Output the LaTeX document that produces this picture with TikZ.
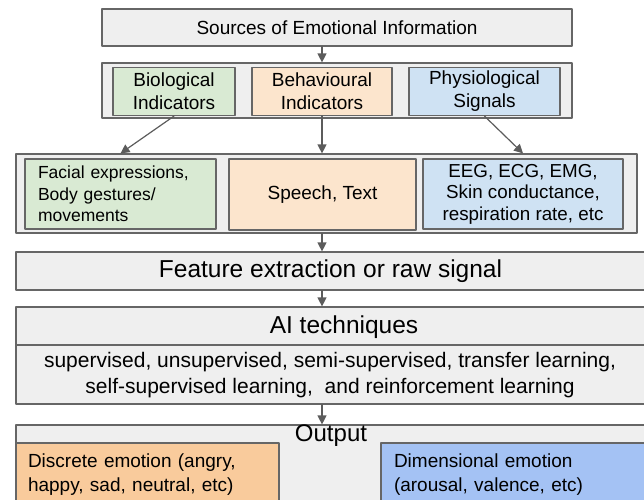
\documentclass[tikz,border=0pt]{standalone}
\usepackage{fontspec}
\setmainfont{Liberation Sans}
\usepackage{tikz}
\usetikzlibrary{arrows.meta}

\definecolor{boxgray}{HTML}{EFEFEF}
\definecolor{edgegray}{HTML}{666666}
\definecolor{biogreen}{HTML}{D9EAD3}
\definecolor{behorange}{HTML}{FCE5CD}
\definecolor{phyblue}{HTML}{CFE2F3}
\definecolor{discorange}{HTML}{F9CB9C}
\definecolor{dimblue}{HTML}{A4C2F4}

\begin{document}
\begin{tikzpicture}[line cap=round,line join=round,>={Triangle[width=9pt,length=9pt]},x=1pt,y=-1pt,
    frame/.style={draw=edgegray, fill=boxgray, line width=1.2pt, inner sep=0pt},
    cell/.style={draw=edgegray, line width=1.2pt, inner sep=0pt, align=center},
    link/.style={draw=edgegray!90!black, line width=1.2pt, ->}]
                    \useasboundingbox (0,0) rectangle (644,499);
                    \clip (0,0) rectangle (644,499);

                    % sources
                    \node [frame, minimum width=470pt, minimum height=37pt, font=\fontsize{19}{23}\selectfont] (src) at (337,27.5) {Sources of Emotional Information};

                    \node [frame, minimum width=470pt, minimum height=55pt] (ind) at (337,90.5) {};
                    \node [cell, fill=biogreen, minimum width=122pt, minimum height=48pt, font=\fontsize{19}{23}\selectfont] (bio) at (174,91.5) {Biological\\Indicators};
                    \node [cell, fill=behorange, minimum width=140pt, minimum height=48pt, font=\fontsize{19}{23}\selectfont] (beh) at (322,91.5) {Behavioural\\Indicators};
                    \node [cell, fill=phyblue, minimum width=151pt, minimum height=48pt, font=\fontsize{19}{23}\selectfont] (phy) at (484.5,91.5) {Physiological\\Signals};

                    % data
                    \node [frame, minimum width=621pt, minimum height=79pt] (dat) at (326.5,193.5) {};
                    \node [cell, fill=biogreen, align=left, text width=165pt, inner xsep=13pt, minimum height=70pt, font=\fontsize{17.5}{21.5}\selectfont] (fac) at (120.5,194) {Facial expressions,\\Body gestures/\\movements};
                    \node [cell, fill=behorange, minimum width=187pt, minimum height=71pt, font=\fontsize{19}{22}\selectfont] (spt) at (322.5,194.5) {Speech, Text};
                    \node [cell, fill=phyblue, minimum width=200pt, minimum height=70pt, font=\fontsize{18.8}{21.5}\selectfont] (eeg) at (523,194) {EEG, ECG, EMG,\\Skin conductance,\\respiration rate, etc};

                    % feature
                    \node [frame, minimum width=629pt, minimum height=38pt, font=\fontsize{24.5}{28}\selectfont] (feat) at (330.5,271) {Feature extraction or raw signal};

                    % ai
                    \node [frame, minimum width=640pt, minimum height=97pt] (ai) at (336,355.5) {};
                    \coordinate (cutl) at (16,345);
                    \coordinate (cutr) at (656,345);
                    \draw [draw=edgegray, line width=1.2pt] (cutl) -- (cutr);
                    \node [font=\fontsize{24.5}{28}\selectfont] (aititle) at (344,327) {AI techniques};
                    \node [align=center, font=\fontsize{21}{26}\selectfont] (aibody) at (330,375) {supervised, unsupervised, semi-supervised, transfer learning,\\self-supervised learning,\ \ and reinforcement learning};

                    % output
                    \node [frame, minimum width=640pt, minimum height=100pt] (out) at (336,475) {};
                    \node [font=\fontsize{24}{28}\selectfont] (outlbl) at (331,436) {Output};
                    \node [cell, fill=discorange, align=left, text width=239pt, inner xsep=12pt, minimum height=64pt, font=\fontsize{19}{24}\selectfont] (disc) at (147.5,475) {Discrete emotion (angry,\\happy, sad, neutral, etc)};
                    \node [cell, fill=dimblue, align=left, text width=253pt, inner xsep=13pt, minimum height=64pt, font=\fontsize{19}{24}\selectfont] (dim) at (520.5,475) {Dimensional emotion\\(arousal, valence, etc)};

                    % arrows
                    \draw [link] (src.south -| beh.north) -- (ind.north -| beh.north);
                    \draw [link] (bio.south) -- (dat.north -| fac.north);
                    \draw [link] (beh.south) -- (dat.north -| beh.south);
                    \draw [link] (phy.south) -- (dat.north -| eeg.north);
                    \draw [link] (dat.south -| beh.south) -- (feat.north -| beh.south);
                    \draw [link] (feat.south -| beh.south) -- (ai.north -| beh.south);
                    \draw [link] (ai.south -| beh.south) -- (out.north -| beh.south);
                \end{tikzpicture}
\end{document}
